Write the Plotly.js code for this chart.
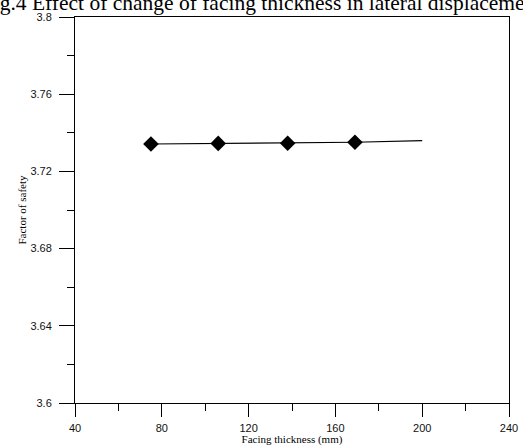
<!DOCTYPE html>
<html>
<head>
<meta charset="utf-8">
<script src="https://cdn.plot.ly/plotly-3.0.1.min.js"></script>
<style>html,body{margin:0;padding:0;background:#fff}#chart{width:523px;height:446px}</style>
</head>
<body>
<div id="chart"></div>
<script>
// Data
var facingThickness = [75, 106, 138, 169];
var factorOfSafety = [3.7342, 3.7345, 3.7346, 3.7351];
var trendX = [75, 106, 138, 169, 200];
var trendY = [3.7342, 3.7345, 3.7346, 3.7351, 3.7359];
var xTickVals = [40, 80, 120, 160, 200, 240];
var xTickText = ['40', '80', '120', '160', '200', '240'];
var yTickVals = [3.6, 3.64, 3.68, 3.72, 3.76, 3.8];
var yTickText = ['3.6', '3.64', '3.68', '3.72', '3.76', '3.8'];
var titleText = 'Fig.4 Effect of change of facing thickness in lateral displacement';
var xTitle = 'Facing thickness (mm)';
var yTitle = 'Factor of safety';

var traces = [
  {x: trendX, y: trendY, mode: 'lines', line: {color: '#000', width: 1.2}, hoverinfo: 'skip', showlegend: false},
  {x: facingThickness, y: factorOfSafety, mode: 'markers', marker: {symbol: 'diamond', size: 12, color: '#000'}, showlegend: false}
];

var serif = '"Liberation Serif", "Times New Roman", serif';
var sans = '"Liberation Sans", Arial, sans-serif';

var layout = {
  width: 523, height: 446,
  margin: {l: 75, r: 14, t: 17, b: 43},
  paper_bgcolor: '#fff', plot_bgcolor: '#fff',
  title: {text: titleText, font: {family: serif, size: 21.5, color: '#000'}, xref: 'container', yref: 'container', x: 0.5, xanchor: 'center', y: 0.995, yanchor: 'middle'},
  xaxis: {
    range: [40, 240], tickvals: xTickVals, ticktext: xTickText,
    ticks: 'outside', ticklen: 13, tickwidth: 1, tickcolor: '#000', ticklabelstandoff: 2,
    minor: {dtick: 20, tick0: 40, ticks: 'outside', ticklen: 7, tickwidth: 1, tickcolor: '#000', showgrid: false},
    showline: true, linecolor: '#000', linewidth: 1, mirror: true,
    showgrid: false, zeroline: false,
    tickfont: {family: sans, size: 11, color: '#111'},
    title: {text: xTitle, font: {family: serif, size: 11, color: '#000'}, standoff: 3}
  },
  yaxis: {
    range: [3.6, 3.8], tickvals: yTickVals, ticktext: yTickText,
    ticks: 'outside', ticklen: 15, tickwidth: 1, tickcolor: '#000', ticklabelstandoff: 5,
    minor: {dtick: 0.02, tick0: 3.6, ticks: 'outside', ticklen: 7, tickwidth: 1, tickcolor: '#000', showgrid: false},
    showline: true, linecolor: '#000', linewidth: 1, mirror: true,
    showgrid: false, zeroline: false,
    tickfont: {family: sans, size: 11, color: '#111'},
    title: {text: yTitle, font: {family: serif, size: 11, color: '#000'}, standoff: 1}
  }
};

Plotly.newPlot('chart', traces, layout, {staticPlot: true, displayModeBar: false});
</script>
</body>
</html>
